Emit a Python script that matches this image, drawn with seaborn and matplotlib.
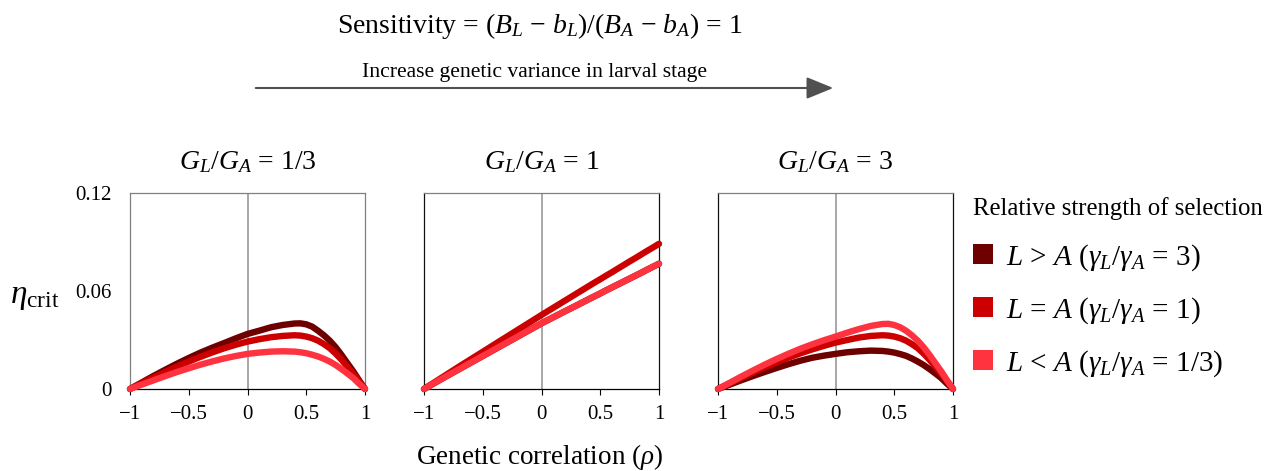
import numpy as np
import pandas as pd
import seaborn as sns
import matplotlib
matplotlib.use("Agg")
import matplotlib.pyplot as plt
from matplotlib.patches import Patch, FancyArrowPatch

# ---------------- data ----------------
rho = [-1.0, -0.9, -0.8, -0.7, -0.6, -0.5, -0.4, -0.3, -0.2, -0.1, 0.0,
       0.1, 0.2, 0.3, 0.4, 0.45, 0.5, 0.55, 0.6, 0.65, 0.7, 0.75, 0.8,
       0.85, 0.9, 0.95, 1.0]

series_names = ["L>A", "L=A", "L<A"]
panel_titles = [r"$G_L/G_A$ = 1/3", r"$G_L/G_A$ = 1", r"$G_L/G_A$ = 3"]

# panel 1: G_L/G_A = 1/3
p1_gt = [0, 0.0040, 0.0080, 0.0118, 0.0155, 0.0190, 0.0223, 0.0253, 0.0281, 0.0310, 0.0337,
         0.0357, 0.0378, 0.0392, 0.0401, 0.0402, 0.0396, 0.0382, 0.0357, 0.0329, 0.0296,
         0.0256, 0.0209, 0.0158, 0.0108, 0.0053, 0]
p1_eq = [0, 0.0036, 0.0071, 0.0105, 0.0138, 0.0168, 0.0197, 0.0224, 0.0249, 0.0271, 0.0290,
         0.0305, 0.0317, 0.0325, 0.0329, 0.0327, 0.0321, 0.0311, 0.0296, 0.0275, 0.0250,
         0.0217, 0.0179, 0.0137, 0.0093, 0.0047, 0]
p1_lt = [0, 0.0027, 0.0053, 0.0079, 0.0104, 0.0127, 0.0149, 0.0169, 0.0187, 0.0202, 0.0215,
         0.0223, 0.0229, 0.0231, 0.0229, 0.0225, 0.0219, 0.0210, 0.0199, 0.0185, 0.0168,
         0.0147, 0.0122, 0.0095, 0.0067, 0.0032, 0]

# panel 2: G_L/G_A = 1
p2_gt = [0, 0.0041, 0.0082, 0.0122, 0.0162, 0.0202, 0.0242, 0.0282, 0.0322, 0.0362, 0.0402,
         0.0439, 0.0476, 0.0512, 0.0549, 0.0567, 0.0585, 0.0604, 0.0622, 0.0640, 0.0658,
         0.0676, 0.0694, 0.0712, 0.0731, 0.0749, 0.0767]
p2_eq = [0, 0.0046, 0.0092, 0.0138, 0.0183, 0.0228, 0.0273, 0.0318, 0.0363, 0.0408, 0.0453,
         0.0497, 0.0541, 0.0585, 0.0629, 0.0651, 0.0672, 0.0694, 0.0715, 0.0737, 0.0759,
         0.0781, 0.0802, 0.0824, 0.0846, 0.0867, 0.0889]
p2_lt = [0, 0.0041, 0.0082, 0.0122, 0.0162, 0.0202, 0.0242, 0.0282, 0.0322, 0.0362, 0.0402,
         0.0439, 0.0476, 0.0512, 0.0549, 0.0567, 0.0585, 0.0604, 0.0622, 0.0640, 0.0658,
         0.0676, 0.0694, 0.0712, 0.0731, 0.0749, 0.0767]

# panel 3: G_L/G_A = 3
p3_gt = [0, 0.0027, 0.0054, 0.0080, 0.0105, 0.0129, 0.0152, 0.0173, 0.0191, 0.0204, 0.0215,
         0.0225, 0.0231, 0.0235, 0.0233, 0.0229, 0.0223, 0.0214, 0.0203, 0.0187, 0.0168,
         0.0147, 0.0122, 0.0095, 0.0067, 0.0032, 0]
p3_eq = [0, 0.0035, 0.0069, 0.0102, 0.0134, 0.0164, 0.0192, 0.0218, 0.0242, 0.0264, 0.0284,
         0.0300, 0.0315, 0.0325, 0.0329, 0.0327, 0.0321, 0.0311, 0.0296, 0.0275, 0.0250,
         0.0217, 0.0179, 0.0137, 0.0093, 0.0047, 0]
p3_lt = [0, 0.0038, 0.0077, 0.0114, 0.0150, 0.0184, 0.0216, 0.0246, 0.0273, 0.0298, 0.0321,
         0.0345, 0.0367, 0.0386, 0.0398, 0.0399, 0.0392, 0.0378, 0.0357, 0.0329, 0.0296,
         0.0256, 0.0209, 0.0158, 0.0108, 0.0053, 0]

panels = [(p1_gt, p1_eq, p1_lt), (p2_gt, p2_eq, p2_lt), (p3_gt, p3_eq, p3_lt)]

legend_labels = [r"$L$ > $A$ ($\gamma_L/\gamma_A$ = 3)",
                 r"$L$ = $A$ ($\gamma_L/\gamma_A$ = 1)",
                 r"$L$ < $A$ ($\gamma_L/\gamma_A$ = 1/3)"]
colors = ["#6E0000", "#CC0000", "#FF3340"]

xticks = [-1, -0.5, 0, 0.5, 1]
xticklabels = ["\u22121", "\u22120.5", "0", "0.5", "1"]
yticks = [0, 0.06, 0.12]
yticklabels = ["0", "0.06", "0.12"]

# ---------------- style ----------------
sns.set_theme(style="white")
plt.rcParams["font.family"] = ["Liberation Serif", "DejaVu Serif"]
plt.rcParams["mathtext.fontset"] = "custom"
plt.rcParams["mathtext.rm"] = "Liberation Serif"
plt.rcParams["mathtext.it"] = "Liberation Serif:italic"
plt.rcParams["mathtext.bf"] = "Liberation Serif:bold"
plt.rcParams["text.color"] = "black"
plt.rcParams["xtick.color"] = "black"
plt.rcParams["ytick.color"] = "black"
plt.rcParams["xtick.labelcolor"] = "black"
plt.rcParams["ytick.labelcolor"] = "black"
plt.rcParams["axes.titlecolor"] = "black"
plt.rcParams["legend.labelcolor"] = "black"

W, H = 1264, 471
fig = plt.figure(figsize=(W / 100, H / 100), dpi=100)

ax_lefts = [130, 424, 718]
ax_w = 235
ax_top, ax_bot = 193, 389

for i, (vals, left) in enumerate(zip(panels, ax_lefts)):
    ax = fig.add_axes([left / W, 1 - ax_bot / H, ax_w / W, (ax_bot - ax_top) / H])
    n = len(rho)
    df = pd.DataFrame({
        "rho": rho * 3,
        "eta": list(vals[0]) + list(vals[1]) + list(vals[2]),
        "series": [series_names[0]] * n + [series_names[1]] * n + [series_names[2]] * n,
    })
    ax.axvline(0, color="#9a9a9a", lw=1.2, zorder=1)
    sns.lineplot(data=df, x="rho", y="eta", hue="series", hue_order=series_names,
                 palette=colors, linewidth=4.6, legend=False, ax=ax, zorder=3,
                 sort=False, estimator=None)
    for ln in ax.lines[1:]:
        ln.set_clip_on(False)
        ln.set_solid_capstyle("round")
        ln.set_solid_joinstyle("round")
    ax.set_xlim(-1, 1)
    ax.set_ylim(0, 0.12)
    ax.set_xlabel("")
    ax.set_ylabel("")
    ax.set_xticks(xticks)
    ax.set_xticklabels(xticklabels, fontsize=15)
    ax.tick_params(axis="x", bottom=True, direction="out", length=4.5, width=0.8,
                   color="black", pad=7)
    if i == 0:
        ax.set_yticks(yticks)
        ax.set_yticklabels(yticklabels, fontsize=15)
        ax.tick_params(axis="y", left=False, length=0, pad=13)
        side_col = "#808080"
    else:
        ax.set_yticks([])
        side_col = "#111111"
    ax.spines["top"].set_color("#808080")
    ax.spines["left"].set_color(side_col)
    ax.spines["right"].set_color(side_col)
    ax.spines["bottom"].set_color("black")
    for s in ax.spines.values():
        s.set_linewidth(0.9)
    ax.set_title(panel_titles[i], fontsize=20, pad=17)
    ax.set_facecolor("white")

# y label
fig.text(35 / W, 1 - 297 / H, r"$\eta_{\mathrm{crit}}$", fontsize=24, ha="center", va="center")
# x label
fig.text(540 / W, 1 - 457 / H, r"Genetic correlation ($\rho$)", fontsize=19.5, ha="center", va="center")

# top title
fig.text(540 / W, 1 - 26 / H, r"Sensitivity = ($B_L$ $-$ $b_L$)/($B_A$ $-$ $b_A$) = 1",
         fontsize=20, ha="center", va="center")
fig.text(534 / W, 1 - 73 / H, "Increase genetic variance in larval stage",
         fontsize=15.6, ha="center", va="center")
fig.add_artist(FancyArrowPatch(
    (253 / W, 1 - 88 / H), (836 / W, 1 - 88 / H), transform=fig.transFigure,
    arrowstyle="-|>,head_length=11,head_width=4.5", mutation_scale=1.5,
    color="#505050", lw=1.5))

# legend
handles = [Patch(facecolor=c, edgecolor="none") for c in colors]
leg = fig.legend(handles, legend_labels, loc="upper left",
                 bbox_to_anchor=(973 / W, 1 - 197 / H), frameon=False,
                 title="Relative strength of selection", title_fontsize=17.8,
                 fontsize=21, handlelength=0.68, handleheight=0.68,
                 handletextpad=0.45, labelspacing=0.76, alignment="left",
                 borderaxespad=0, borderpad=0)
leg._legend_box.sep = 16

fig.savefig("out.png", dpi=100, facecolor="white")
